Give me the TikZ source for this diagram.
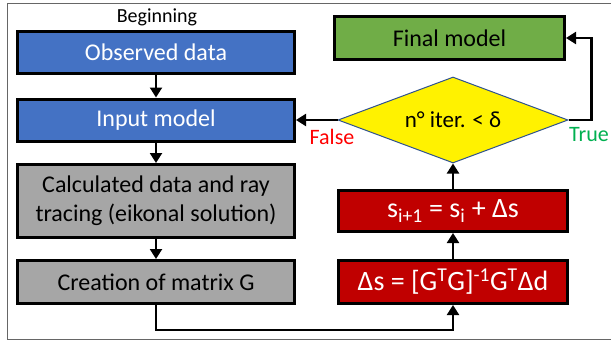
\documentclass[tikz,border=0pt]{standalone}
\usepackage{fontspec}
\setmainfont{Carlito}
\usetikzlibrary{shapes.geometric, arrows.meta}

\definecolor{boxblue}{RGB}{68,114,196}
\definecolor{boxgray}{RGB}{166,166,166}
\definecolor{boxgreen}{RGB}{112,173,71}
\definecolor{boxred}{RGB}{192,0,0}
\definecolor{diaedge}{RGB}{47,82,143}
\definecolor{truegreen}{RGB}{0,176,80}

\begin{document}
\begin{tikzpicture}[x=1pt, y=-1pt,
    blk/.style={draw=black, line width=3pt, minimum width=277pt, minimum height=42pt, inner sep=1pt, align=center, font=\fontsize{24}{29}\selectfont},
    eqblk/.style={blk, fill=boxred, text=white, minimum width=229pt, font=\fontsize{28}{30}\selectfont},
    flow/.style={line width=2.2pt, -{Triangle[length=10pt,width=12pt]}}]

    \useasboundingbox (0,0) rectangle (611,341);
    \draw[gray!80!black, line width=1pt] (611,3) -- (7,3) -- (7,339) -- (611,339);

    \node (beg) at (157,17) {\fontsize{20}{22}\selectfont Beginning};

    % left column
    \node (obs) [blk, fill=boxblue, text=white] at (156,52.5) {Observed data};
    \node (inp) [blk, fill=boxblue, text=white] at (156,120) {Input model};
    \node (calc) [blk, fill=boxgray, minimum height=73pt] at (156,201) {Calculated data and ray\\tracing (eikonal solution)};
    \node (matG) [blk, fill=boxgray, minimum height=43pt] at (156,282) {Creation of matrix G};

    % right column
    \node (dels) [eqblk, minimum height=43pt] at (453,282) {Δs = [G\textsuperscript{T}G]\textsuperscript{-1}G\textsuperscript{T}Δd};
    \node (upd) [eqblk, minimum height=41pt] at (453,211) {s\textsubscript{i+1} = s\textsubscript{i} + Δs};
    \node (test) [draw=diaedge, line width=1pt, fill=yellow, diamond, aspect=2.67, minimum width=230pt, minimum height=86pt, inner sep=0pt, font=\fontsize{23}{26}\selectfont] at (453,120) {n° iter. < δ};
    \node (final) [blk, fill=boxgreen, minimum width=230pt, minimum height=43pt] at (449.5,38) {Final model};

    \draw[flow] (obs) -- (inp);
    \draw[flow] (inp) -- (calc);
    \draw[flow] (calc) -- (matG);
    \draw[flow] (matG.south) -- ++(0,25) -| (dels.south);
    \draw[flow] (dels) -- (upd);
    \draw[flow] (upd) -- (test.south);
    \draw[flow] (test.west) -- (inp.east);
    \draw[flow] (test.east) -- ++(23,0) |- (final.east);

    \node (no) [text=red, font=\fontsize{22}{24}\selectfont] at (332,137) {False};
    \node (yes) [text=truegreen, font=\fontsize{22}{24}\selectfont] at (589,135) {True};

\end{tikzpicture}
\end{document}
